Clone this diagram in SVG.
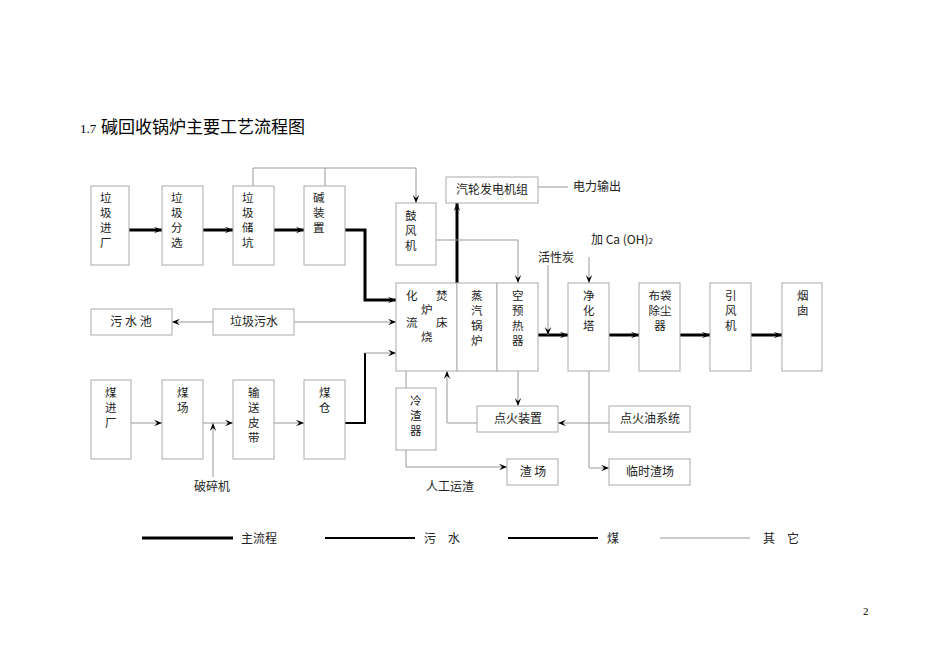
<svg xmlns="http://www.w3.org/2000/svg" width="950" height="672" viewBox="0 0 950 672">
<style>
.b{fill:#fff;stroke:#aaa;stroke-width:1}
.t{font-family:"Noto Sans CJK SC","Liberation Serif",serif;font-size:12px;fill:#222}
.v{font-family:"Noto Sans CJK SC","Liberation Serif",serif;font-size:11.5px;fill:#222}
.c{text-anchor:middle}
.th{fill:none;stroke:#000;stroke-width:3}
.md{fill:none;stroke:#000;stroke-width:2}
.tn{fill:none;stroke:#999;stroke-width:1}
</style>
<defs>
<marker id="a" viewBox="0 0 10 10" refX="10" refY="5" markerWidth="10" markerHeight="8" markerUnits="userSpaceOnUse" orient="auto"><path d="M0,1 L10,5 L0,9 L4,5 Z" fill="#000"/></marker>
</defs>
<rect width="950" height="672" fill="#fff"/>
<text x="80" y="133" font-family="Liberation Serif,serif" font-size="13">1.7</text>
<text x="101" y="133" font-family="Noto Sans CJK SC,sans-serif" font-size="17">碱回收锅炉主要工艺流程图</text>
<g id="connectors">
<path class="th" d="M129,230H162" marker-end="url(#a)"/>
<path class="th" d="M203,230H233" marker-end="url(#a)"/>
<path class="th" d="M274,230H304" marker-end="url(#a)"/>
<path class="th" d="M345,230H365V300H396" marker-end="url(#a)"/>
<path class="th" d="M538,335H568" marker-end="url(#a)"/>
<path class="th" d="M609,335H639" marker-end="url(#a)"/>
<path class="th" d="M680,335H710" marker-end="url(#a)"/>
<path class="th" d="M751,335H782" marker-end="url(#a)"/>
<path class="th" d="M457,283V203" marker-end="url(#a)"/>
<path class="md" d="M345,423H365V353"/>
<path class="tn" d="M365,353H396" marker-end="url(#a)"/>
<path class="tn" d="M213,322H172" marker-end="url(#a)"/>
<path class="tn" d="M294,322H396" marker-end="url(#a)"/>
<path class="tn" d="M253,186V168H416V203" marker-end="url(#a)"/>
<path class="tn" d="M325,168V186"/>
<path class="tn" d="M436,240H518V283" marker-end="url(#a)"/>
<path class="tn" d="M548,265V335" marker-end="url(#a)"/>
<path class="tn" d="M589,257V283" marker-end="url(#a)"/>
<path class="tn" d="M518,371V406" marker-end="url(#a)"/>
<path class="tn" d="M477,423H447V371" marker-end="url(#a)"/>
<path class="tn" d="M609,423H558" marker-end="url(#a)"/>
<path class="tn" d="M589,371V468H609" marker-end="url(#a)"/>
<path class="tn" d="M406,450V467H507" marker-end="url(#a)"/>
<path class="tn" d="M131,423H162" marker-end="url(#a)"/>
<path class="tn" d="M203,423H233" marker-end="url(#a)"/>
<path class="tn" d="M213,477V423" marker-end="url(#a)"/>
<path class="tn" d="M274,423H304" marker-end="url(#a)"/>
<path class="tn" d="M406,371V388"/>
<path class="tn" d="M538,187H568"/>
</g>
<g id="n1"><rect class="b" x="91" y="186" width="38" height="79"/><text class="v" x="100" y="202">垃</text><text class="v" x="100" y="217">圾</text><text class="v" x="100" y="232">进</text><text class="v" x="100" y="247">厂</text></g>
<g id="n2"><rect class="b" x="162" y="186" width="41" height="79"/><text class="v" x="171" y="202">垃</text><text class="v" x="171" y="217">圾</text><text class="v" x="171" y="232">分</text><text class="v" x="171" y="247">选</text></g>
<g id="n3"><rect class="b" x="233" y="186" width="41" height="79"/><text class="v" x="242" y="202">垃</text><text class="v" x="242" y="217">圾</text><text class="v" x="242" y="232">储</text><text class="v" x="242" y="247">坑</text></g>
<g id="n4"><rect class="b" x="304" y="186" width="41" height="79"/><text class="v" x="313" y="202">碱</text><text class="v" x="313" y="217">装</text><text class="v" x="313" y="232">置</text></g>
<g id="n5"><rect class="b" x="396" y="203" width="40" height="62"/><text class="v" x="405" y="220">鼓</text><text class="v" x="405" y="235">风</text><text class="v" x="405" y="250">机</text></g>
<g id="n6"><rect class="b" x="446" y="177" width="92" height="26"/><text class="t c" x="492" y="194">汽轮发电机组</text></g>
<text class="t" x="573" y="191">电力输出</text>
<g id="n7"><rect class="b" x="396" y="283" width="61" height="88"/><text class="v" x="406" y="300">化</text><text class="v" x="436" y="300">焚</text><text class="v" x="421" y="314">炉</text><text class="v" x="406" y="327">流</text><text class="v" x="436" y="327">床</text><text class="v" x="421" y="341">烧</text></g>
<g id="n8"><rect class="b" x="457" y="283" width="40" height="88"/><text class="v" x="471" y="300">蒸</text><text class="v" x="471" y="315">汽</text><text class="v" x="471" y="330">锅</text><text class="v" x="471" y="345">炉</text></g>
<g id="n9"><rect class="b" x="497" y="283" width="41" height="88"/><text class="v" x="512" y="300">空</text><text class="v" x="512" y="315">预</text><text class="v" x="512" y="330">热</text><text class="v" x="512" y="345">器</text></g>
<text class="t" x="538" y="262">活性炭</text>
<text class="t" x="591" y="244">加 Ca (OH)<tspan font-size="8">2</tspan></text>
<g id="n10"><rect class="b" x="568" y="283" width="41" height="88"/><text class="v" x="583" y="300">净</text><text class="v" x="583" y="315">化</text><text class="v" x="583" y="330">塔</text></g>
<g id="n11"><rect class="b" x="639" y="283" width="41" height="88"/><text class="v c" x="660" y="300">布袋</text><text class="v c" x="660" y="315">除尘</text><text class="v c" x="660" y="330">器</text></g>
<g id="n12"><rect class="b" x="710" y="283" width="41" height="88"/><text class="v" x="725" y="300">引</text><text class="v" x="725" y="315">风</text><text class="v" x="725" y="330">机</text></g>
<g id="n13"><rect class="b" x="782" y="283" width="40" height="88"/><text class="v" x="797" y="300">烟</text><text class="v" x="797" y="315">囱</text></g>
<g id="n14"><rect class="b" x="91" y="309" width="81" height="26"/><text class="t c" x="131" y="326">污 水 池</text></g>
<g id="n15"><rect class="b" x="213" y="309" width="81" height="26"/><text class="t c" x="254" y="326">垃圾污水</text></g>
<g id="n16"><rect class="b" x="91" y="380" width="40" height="79"/><text class="v" x="105" y="397">煤</text><text class="v" x="105" y="412">进</text><text class="v" x="105" y="427">厂</text></g>
<g id="n17"><rect class="b" x="162" y="380" width="41" height="79"/><text class="v" x="177" y="397">煤</text><text class="v" x="177" y="412">场</text></g>
<g id="n18"><rect class="b" x="233" y="380" width="41" height="79"/><text class="v" x="248" y="397">输</text><text class="v" x="248" y="412">送</text><text class="v" x="248" y="427">皮</text><text class="v" x="248" y="442">带</text></g>
<g id="n19"><rect class="b" x="304" y="380" width="41" height="79"/><text class="v" x="319" y="397">煤</text><text class="v" x="319" y="412">仓</text></g>
<text class="t" x="194" y="491">破碎机</text>
<g id="n20"><rect class="b" x="396" y="388" width="40" height="62"/><text class="v" x="410" y="405">冷</text><text class="v" x="410" y="420">渣</text><text class="v" x="410" y="435">器</text></g>
<g id="n21"><rect class="b" x="477" y="406" width="81" height="26"/><text class="t c" x="518" y="423">点火装置</text></g>
<g id="n22"><rect class="b" x="609" y="406" width="81" height="26"/><text class="t c" x="650" y="423">点火油系统</text></g>
<g id="n23"><rect class="b" x="507" y="459" width="51" height="26"/><text class="t c" x="533" y="476">渣 场</text></g>
<g id="n24"><rect class="b" x="609" y="459" width="81" height="26"/><text class="t c" x="650" y="476">临时渣场</text></g>
<text class="t" x="426" y="491">人工运渣</text>
<g id="legend">
<path d="M142,538H233" stroke="#000" stroke-width="3"/>
<path d="M325,538H415" stroke="#000" stroke-width="2"/>
<path d="M508,538H598" stroke="#000" stroke-width="2"/>
<path d="M660,538H750" stroke="#999" stroke-width="1"/>
<text class="t" x="241" y="543">主流程</text>
<text class="t" x="424" y="543">污　水</text>
<text class="t" x="607" y="543">煤</text>
<text class="t" x="763" y="543">其　它</text>
</g>
<text x="863" y="615" font-family="Liberation Serif,serif" font-size="11">2</text>
</svg>
